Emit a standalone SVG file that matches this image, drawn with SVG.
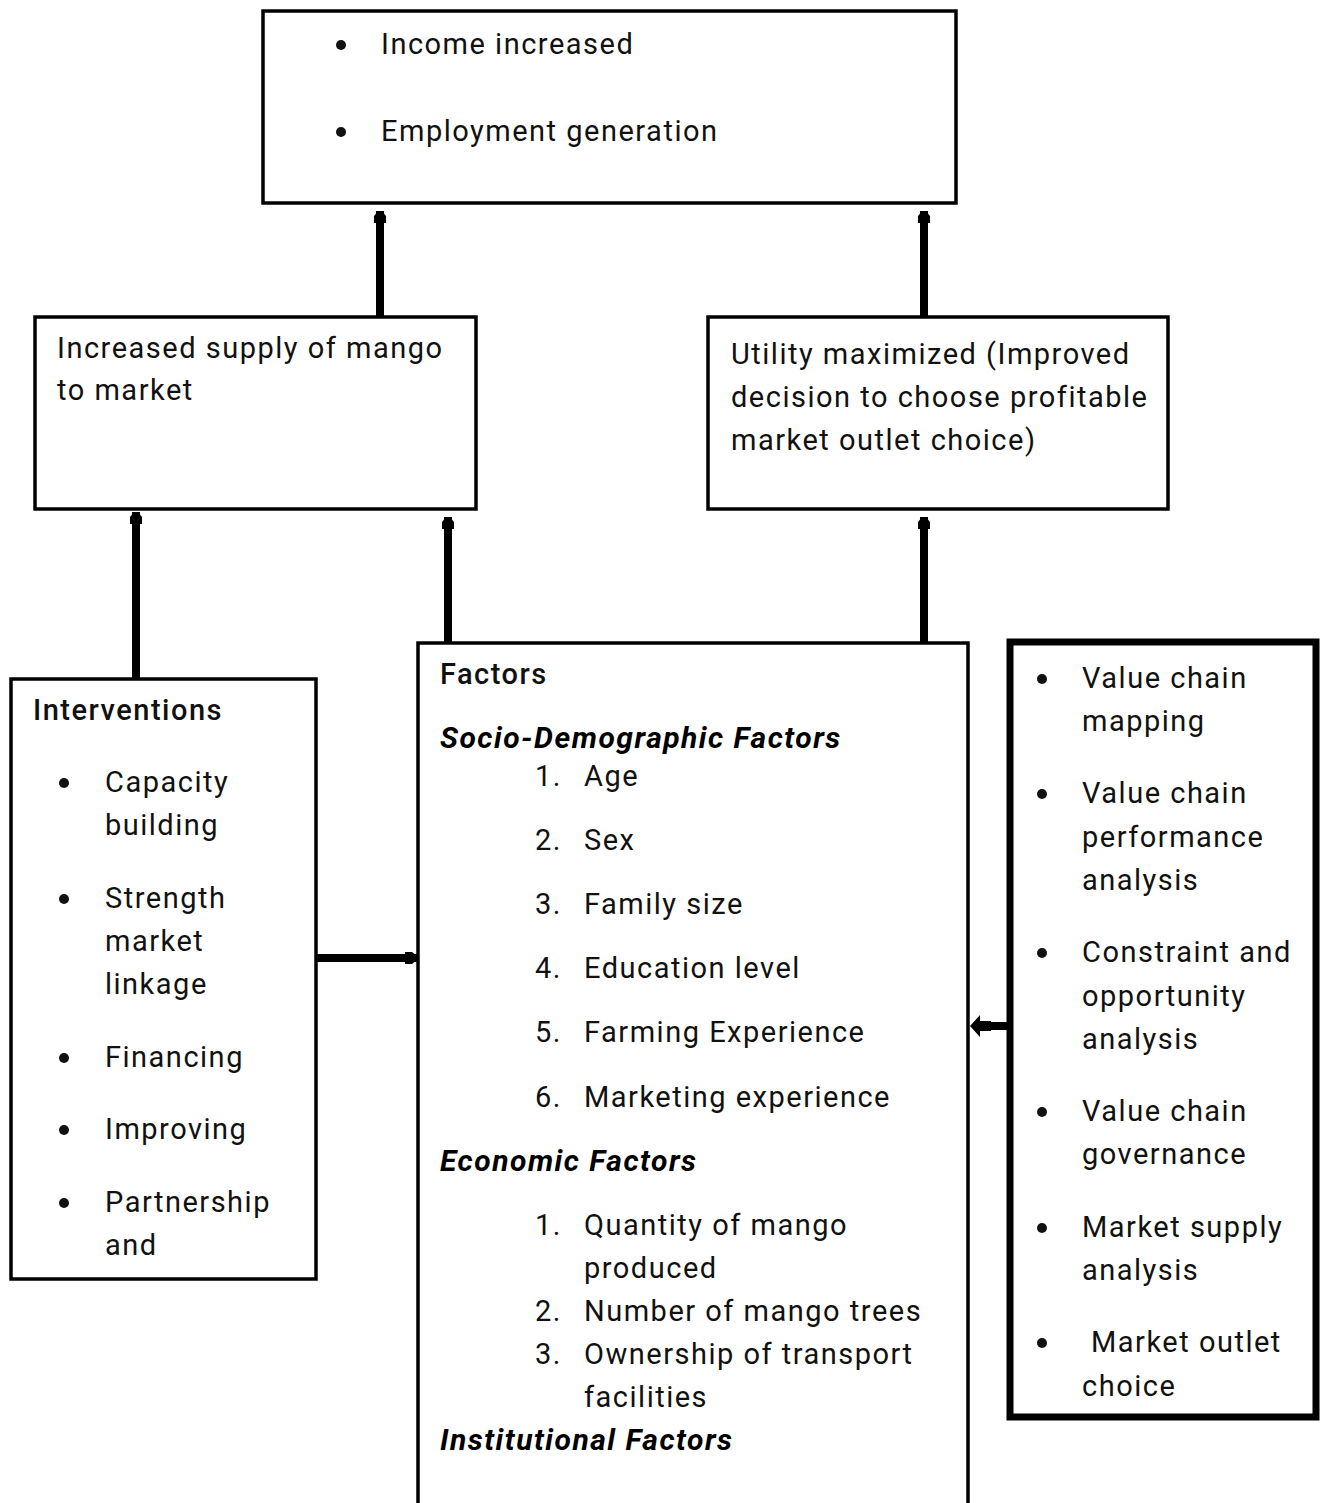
<svg xmlns="http://www.w3.org/2000/svg" width="1324" height="1503" viewBox="0 0 1324 1503">
<style>
.box{fill:#fff;stroke:#000;stroke-width:3.5}
.thick{fill:#fff;stroke:#000;stroke-width:7}
text{font-family:Roboto,"Liberation Sans",sans-serif;font-size:29px;fill:#111;letter-spacing:1.5px}
.b{font-weight:500}
.i{font-style:italic;font-weight:700;font-size:30px;letter-spacing:1.5px;fill:#000}
.conn{stroke:#000;stroke-width:8;fill:none}
</style>
<defs>
<marker id="ah" markerUnits="userSpaceOnUse" markerWidth="16" markerHeight="14" refX="12" refY="7" orient="auto">
<path d="M0,1 L7,1 L12,5 L12,9 L7,13 L0,13 Z" fill="#000"/>
</marker>
</defs>
<rect width="1324" height="1503" fill="#fff"/>
<g id="connectors">
<line class="conn" x1="380" y1="317" x2="380" y2="211" marker-end="url(#ah)"/>
<line class="conn" x1="924" y1="317" x2="924" y2="211" marker-end="url(#ah)"/>
<line class="conn" x1="136" y1="679" x2="136" y2="512" marker-end="url(#ah)"/>
<line class="conn" x1="448" y1="643" x2="448" y2="517" marker-end="url(#ah)"/>
<line class="conn" x1="924" y1="643" x2="924" y2="517" marker-end="url(#ah)"/>
<line class="conn" x1="316" y1="958" x2="417" y2="958" marker-end="url(#ah)"/>
<line class="conn" x1="1010" y1="1026" x2="991" y2="1026"/>
<path d="M970,1026 L980,1015 L980,1021 L991,1021 L991,1031 L980,1031 L980,1037 Z" fill="#000"/>
</g>
<g id="outcome">
<rect class="box" x="263" y="11" width="693" height="192"/>
<circle cx="341" cy="45" r="5" fill="#111"/>
<text x="381" y="54">Income increased</text>
<circle cx="341" cy="132" r="5" fill="#111"/>
<text x="381" y="141">Employment generation</text>
</g>
<g id="supply">
<rect class="box" x="35" y="317" width="441" height="192"/>
<text x="57" y="358">Increased supply of mango</text>
<text x="57" y="400">to market</text>
</g>
<g id="utility">
<rect class="box" x="708" y="317" width="460" height="192"/>
<text x="731" y="364">Utility maximized (Improved</text>
<text x="731" y="407">decision to choose profitable</text>
<text x="731" y="450">market outlet choice)</text>
</g>
<g id="interventions">
<rect class="box" x="11" y="679" width="305" height="600"/>
<text class="b" x="33" y="720">Interventions</text>
<circle cx="64" cy="783" r="5" fill="#111"/>
<text x="105" y="792">Capacity</text>
<text x="105" y="835">building</text>
<circle cx="64" cy="899" r="5" fill="#111"/>
<text x="105" y="908">Strength</text>
<text x="105" y="951">market</text>
<text x="105" y="994">linkage</text>
<circle cx="64" cy="1058" r="5" fill="#111"/>
<text x="105" y="1067">Financing</text>
<circle cx="64" cy="1130" r="5" fill="#111"/>
<text x="105" y="1139">Improving</text>
<circle cx="64" cy="1203" r="5" fill="#111"/>
<text x="105" y="1212">Partnership</text>
<text x="105" y="1255">and</text>
</g>
<g id="factors">
<rect class="box" x="418" y="643" width="550" height="870"/>
<text class="b" x="440" y="684">Factors</text>
<text class="i" x="440" y="748">Socio-Demographic Factors</text>
<text x="535" y="786">1.</text><text x="584" y="786">Age</text>
<text x="535" y="850">2.</text><text x="584" y="850">Sex</text>
<text x="535" y="914">3.</text><text x="584" y="914">Family size</text>
<text x="535" y="978">4.</text><text x="584" y="978">Education level</text>
<text x="535" y="1042">5.</text><text x="584" y="1042">Farming Experience</text>
<text x="535" y="1107">6.</text><text x="584" y="1107">Marketing experience</text>
<text class="i" x="440" y="1171">Economic Factors</text>
<text x="535" y="1235">1.</text><text x="584" y="1235">Quantity of mango</text>
<text x="584" y="1278">produced</text>
<text x="535" y="1321">2.</text><text x="584" y="1321">Number of mango trees</text>
<text x="535" y="1364">3.</text><text x="584" y="1364">Ownership of transport</text>
<text x="584" y="1407">facilities</text>
<text class="i" x="440" y="1450">Institutional Factors</text>
</g>
<g id="analysis">
<rect class="thick" x="1010" y="642" width="306" height="775"/>
<circle cx="1042" cy="679" r="5" fill="#111"/>
<text x="1082" y="688">Value chain</text>
<text x="1082" y="731">mapping</text>
<circle cx="1042" cy="794" r="5" fill="#111"/>
<text x="1082" y="803">Value chain</text>
<text x="1082" y="847">performance</text>
<text x="1082" y="890">analysis</text>
<circle cx="1042" cy="953" r="5" fill="#111"/>
<text x="1082" y="962">Constraint and</text>
<text x="1082" y="1006">opportunity</text>
<text x="1082" y="1049">analysis</text>
<circle cx="1042" cy="1112" r="5" fill="#111"/>
<text x="1082" y="1121">Value chain</text>
<text x="1082" y="1164">governance</text>
<circle cx="1042" cy="1228" r="5" fill="#111"/>
<text x="1082" y="1237">Market supply</text>
<text x="1082" y="1280">analysis</text>
<circle cx="1042" cy="1343" r="5" fill="#111"/>
<text x="1091" y="1352">Market outlet</text>
<text x="1082" y="1396">choice</text>
</g>
</svg>
